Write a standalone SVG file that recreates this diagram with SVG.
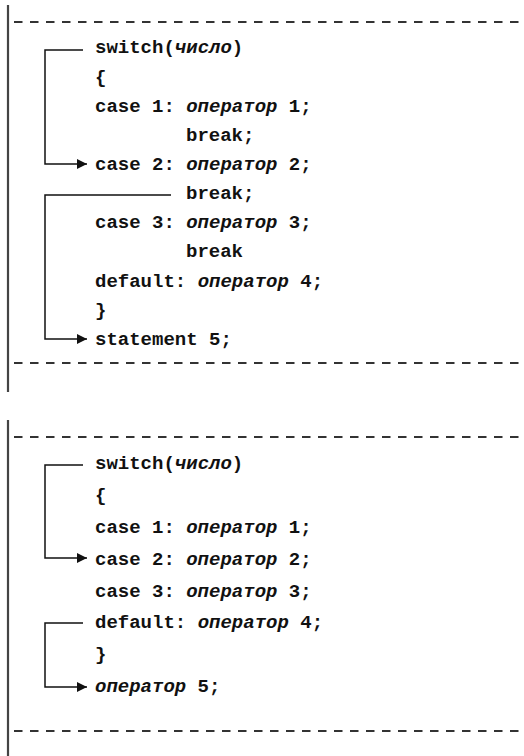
<svg xmlns="http://www.w3.org/2000/svg" width="524" height="756" viewBox="0 0 524 756">
<defs>
<style>
.t{font-family:"Liberation Mono","Courier New",monospace;font-size:19px;font-weight:bold;fill:#111}
.i{font-style:italic}
.dash{stroke:#333;stroke-width:2;stroke-dasharray:8.5 7.5;fill:none}
.border{stroke:#444;stroke-width:2.2;fill:none}
.c{stroke:#111;stroke-width:1.5;fill:none}
</style>
<marker id="ah" viewBox="0 0 10 10" refX="10" refY="5" markerWidth="10" markerHeight="10" markerUnits="userSpaceOnUse" orient="auto">
<path d="M0,0 L10,5 L0,10 Z" fill="#111"/>
</marker>
</defs>
<rect width="524" height="756" fill="#fff"/>
<g id="frame">
<line class="border" x1="8" y1="5" x2="8" y2="392"/>
<line class="border" x1="8" y1="420" x2="8" y2="756"/>
<line class="dash" x1="14" y1="22" x2="524" y2="22"/>
<line class="dash" x1="14" y1="363" x2="524" y2="363"/>
<line class="dash" x1="14" y1="437" x2="524" y2="437"/>
<line class="dash" x1="14" y1="731" x2="524" y2="731"/>
</g>
<g id="code-top">
<text class="t" x="95" y="53">switch(<tspan class="i">число</tspan>)</text>
<text class="t" x="95" y="83">{</text>
<text class="t" x="95" y="112">case 1: <tspan class="i">оператор</tspan> 1;</text>
<text class="t" x="186" y="141">break;</text>
<text class="t" x="95" y="170">case 2: <tspan class="i">оператор</tspan> 2;</text>
<text class="t" x="186" y="199">break;</text>
<text class="t" x="95" y="228">case 3: <tspan class="i">оператор</tspan> 3;</text>
<text class="t" x="186" y="257">break</text>
<text class="t" x="95" y="287">default: <tspan class="i">оператор</tspan> 4;</text>
<text class="t" x="95" y="316">}</text>
<text class="t" x="95" y="345">statement 5;</text>
</g>
<g id="code-bottom">
<text class="t" x="95" y="469">switch(<tspan class="i">число</tspan>)</text>
<text class="t" x="95" y="501">{</text>
<text class="t" x="95" y="533">case 1: <tspan class="i">оператор</tspan> 1;</text>
<text class="t" x="95" y="565">case 2: <tspan class="i">оператор</tspan> 2;</text>
<text class="t" x="95" y="597">case 3: <tspan class="i">оператор</tspan> 3;</text>
<text class="t" x="95" y="628">default: <tspan class="i">оператор</tspan> 4;</text>
<text class="t" x="95" y="660">}</text>
<text class="t" x="95" y="692"><tspan class="i">оператор</tspan> 5;</text>
</g>
<g id="connectors">
<polyline class="c" points="83,50 45,50 45,164 87,164" marker-end="url(#ah)"/>
<polyline class="c" points="171,195 45,195 45,339 87,339" marker-end="url(#ah)"/>
<polyline class="c" points="83,465 45,465 45,558 87,558" marker-end="url(#ah)"/>
<polyline class="c" points="83,623 45,623 45,687 87,687" marker-end="url(#ah)"/>
</g>
</svg>
